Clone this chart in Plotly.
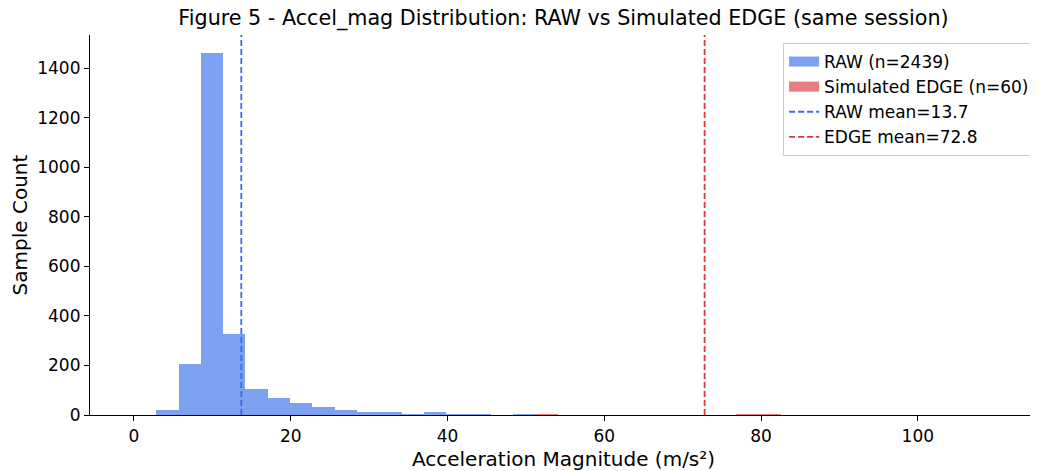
import plotly.graph_objects as go

# ---- data ----
bin_width = 2.846
bin_start = 0.0
raw_counts = [0, 22, 205, 1462, 326, 106, 67, 48, 32, 20, 12, 12, 6, 12, 4, 4, 1, 3, 1]
edge_bins = [18, 19, 20, 21, 26, 27, 28, 35]
edge_counts = [4, 2, 1, 1, 2, 4, 4, 2]
raw_mean = 13.7
edge_mean = 72.8
raw_label = "RAW (n=2439)"
edge_label = "Simulated EDGE (n=60)"
x_ticks = [0, 20, 40, 60, 80, 100]
y_ticks = [0, 200, 400, 600, 800, 1000, 1200, 1400]

raw_x = [bin_start + (i + 0.5) * bin_width for i in range(len(raw_counts))]
edge_x = [bin_start + (i + 0.5) * bin_width for i in edge_bins]
y_top = max(raw_counts) * 1.05

RAW_COL = "rgba(80,130,235,0.75)"
EDGE_COL = "rgba(214,39,40,0.6)"
FONT = "DejaVu Sans"
fig = go.Figure()
fig.add_trace(go.Bar(x=raw_x, y=raw_counts, width=bin_width, name=raw_label, showlegend=False,
                     marker=dict(color=RAW_COL, line=dict(width=0))))
fig.add_trace(go.Bar(x=edge_x, y=edge_counts, width=bin_width, name=edge_label, showlegend=False,
                     marker=dict(color=EDGE_COL, line=dict(width=0))))
# legend patches (legend-only entries)
fig.add_trace(go.Scatter(x=[None], y=[None], mode="lines", name=raw_label,
                         line=dict(color=RAW_COL, width=12)))
fig.add_trace(go.Scatter(x=[None], y=[None], mode="lines", name=edge_label,
                         line=dict(color=EDGE_COL, width=12)))
fig.add_trace(go.Scatter(x=[raw_mean, raw_mean], y=[0, y_top], mode="lines",
                         name=f"RAW mean={raw_mean}",
                         line=dict(color="#3b6be6", width=1.8, dash="6px,3px")))
fig.add_trace(go.Scatter(x=[edge_mean, edge_mean], y=[0, y_top], mode="lines",
                         name=f"EDGE mean={edge_mean}",
                         line=dict(color="#e03535", width=1.8, dash="6px,3px")))

fig.update_layout(
    width=1030, height=463,
    margin=dict(l=82, r=1, t=27, b=56, autoexpand=False),
    paper_bgcolor="white", plot_bgcolor="white",
    barmode="overlay", bargap=0,
    font=dict(family=FONT, size=17, color="black"),
    title=dict(text="Figure 5 - Accel_mag Distribution: RAW vs Simulated EDGE (same session)",
               x=0.5, xref="paper", xanchor="center", y=0.979, yanchor="middle",
               font=dict(size=20.7, family=FONT, color="black")),
    legend=dict(x=0.998, y=0.979, xanchor="right", yanchor="top",
                bgcolor="rgba(255,255,255,0.8)", bordercolor="#cccccc", borderwidth=1,
                font=dict(size=17, family=FONT), tracegroupgap=0),
    xaxis=dict(range=[-5.6, 115.2], tickvals=x_ticks, showgrid=False, zeroline=False,
               showline=True, linecolor="black", linewidth=1.2, ticks="outside",
               ticklen=5, tickcolor="black", tickwidth=1.2, automargin=False,
               title=dict(text="Acceleration Magnitude (m/s²)", standoff=7)),
    yaxis=dict(range=[0, y_top], tickvals=y_ticks, showgrid=False, zeroline=False,
               showline=True, linecolor="black", linewidth=1.2, ticks="outside",
               ticklen=5, tickcolor="black", tickwidth=1.2, automargin=False,
               title=dict(text="Sample Count", standoff=8)),
)
fig.write_html("out.html")
